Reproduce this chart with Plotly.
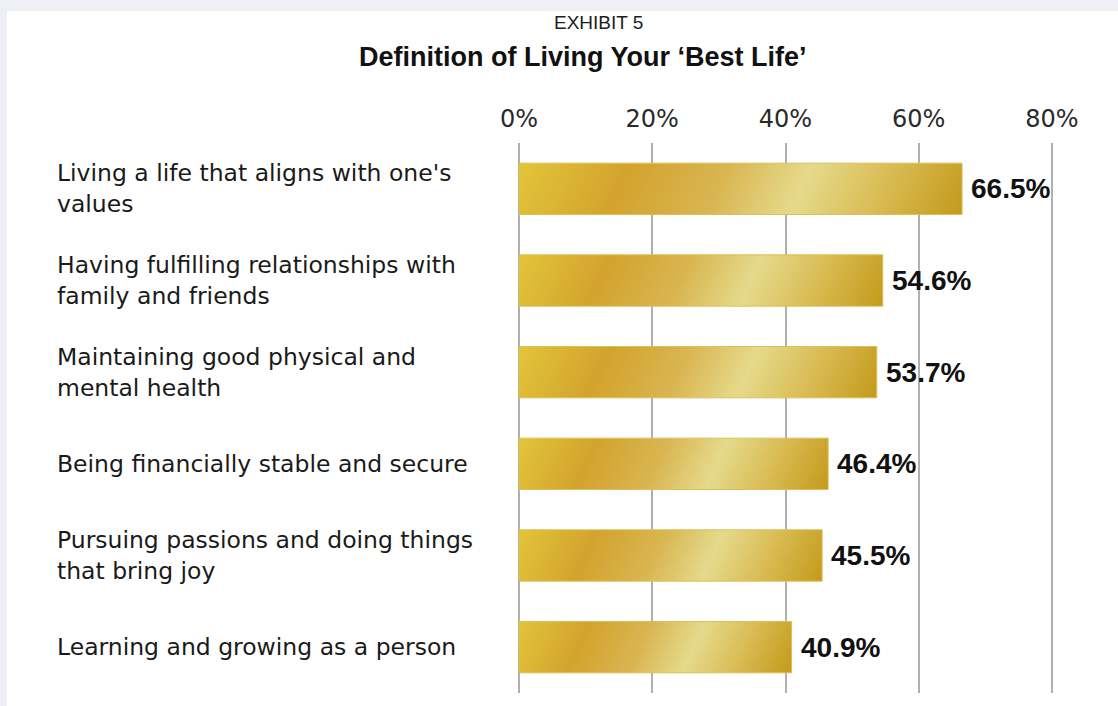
import plotly.graph_objects as go

categories = [
    "Living a life that aligns with one's<br>values",
    "Having fulfilling relationships with<br>family and friends",
    "Maintaining good physical and<br>mental health",
    "Being financially stable and secure",
    "Pursuing passions and doing things<br>that bring joy",
    "Learning and growing as a person",
]
values = [66.5, 54.6, 53.7, 46.4, 45.5, 40.9]
value_labels = ["66.5%", "54.6%", "53.7%", "46.4%", "45.5%", "40.9%"]
tick_vals = [0, 20, 40, 60, 80]
tick_text = ["0%", "20%", "40%", "60%", "80%"]

FONT = "Liberation Sans, Arial, Helvetica, sans-serif"
WIDE = "DejaVu Sans, Liberation Sans, sans-serif"
W, H = 1118, 706
PX_PER_UNIT = 533 / 80.0
X0, X1 = -0.3, 80.3
L = round(519 + X0 * PX_PER_UNIT)
R = W - round(519 + X1 * PX_PER_UNIT)
T, B = 143, 13
PW, PH = W - L - R, H - T - B


def px_x(x):
    return (x - L) / PW


def px_y(y):
    return (H - B - y) / PH


fig = go.Figure()
fig.add_trace(go.Bar(
    y=list(range(len(categories))),
    x=values,
    orientation="h",
    width=0.56,
    marker=dict(color="#d6b040", line=dict(color="#dcbf55", width=1)),
    cliponaxis=False,
    hoverinfo="skip",
))

annotations = []
for i, (v, t) in enumerate(zip(values, value_labels)):
    annotations.append(dict(
        x=v, xref="x", y=i, yref="y", text="<b>" + t + "</b>",
        showarrow=False, xanchor="left", yanchor="middle", xshift=7,
        font=dict(family=FONT, size=28, color="#111111"),
    ))
for i, c in enumerate(categories):
    annotations.append(dict(
        x=px_x(55), xref="paper", y=i, yref="y",
        text=c, showarrow=False, xanchor="left", yanchor="middle", align="left",
        font=dict(family=WIDE, size=23.5, color="#1a1a1a"),
    ))
annotations.append(dict(
    x=px_x(598), xref="paper", y=px_y(22), yref="paper", text="EXHIBIT 5",
    showarrow=False, xanchor="center", yanchor="middle",
    font=dict(family=FONT, size=19, color="#1e1e1e"),
))
annotations.append(dict(
    x=px_x(583), xref="paper", y=px_y(57), yref="paper",
    text="<b>Definition of Living Your ‘Best Life’</b>",
    showarrow=False, xanchor="center", yanchor="middle",
    font=dict(family=FONT, size=27, color="#111111"),
))

fig.update_layout(
    width=W, height=H,
    margin=dict(l=L, r=R, t=T, b=B),
    paper_bgcolor="#eef0f5",
    plot_bgcolor="rgba(0,0,0,0)",
    showlegend=False,
    annotations=annotations,
    shapes=[dict(type="rect", xref="paper", yref="paper",
                 x0=px_x(7), x1=px_x(W + 2), y0=px_y(H + 2), y1=px_y(11),
                 fillcolor="white", line=dict(width=0), layer="below")],
    xaxis=dict(
        range=[X0, X1], side="top", tickvals=tick_vals, ticktext=tick_text,
        showgrid=True, gridcolor="#b0b0b0", gridwidth=2,
        zeroline=False, showline=False, ticks="",
        tickfont=dict(family=WIDE, size=24, color="#2a2a2a"),
        ticklabelstandoff=10, fixedrange=True,
    ),
    yaxis=dict(
        range=[5.5, -0.5], showticklabels=False, showgrid=False,
        zeroline=False, showline=False, ticks="", fixedrange=True,
    ),
)

post = """
var gd = document.getElementsByClassName('plotly-graph-div')[0];
function applyGrad(){
  var svg = gd.querySelector('svg.main-svg');
  if(!svg) return;
  var ns = 'http://www.w3.org/2000/svg';
  var defs = svg.querySelector('defs');
  if(!defs){ defs = document.createElementNS(ns,'defs'); svg.insertBefore(defs, svg.firstChild); }
  var stops = [[0,'#e2c53a'],[0.24,'#d3a32d'],[0.45,'#d9b551'],[0.63,'#e5da8b'],[0.82,'#d8b94f'],[1,'#c39a1b']];
  var ux = 1, uy = 0.45, n = Math.sqrt(ux*ux+uy*uy); ux/=n; uy/=n;
  gd.querySelectorAll('.barlayer .point path').forEach(function(p, i){
    var b = p.getBBox();
    if(!b.width) return;
    var id = 'goldgrad' + i;
    var old = document.getElementById(id);
    if(old) old.parentNode.removeChild(old);
    var g = document.createElementNS(ns,'linearGradient');
    g.setAttribute('id', id);
    g.setAttribute('gradientUnits','userSpaceOnUse');
    var len = b.width*ux + b.height*uy;
    g.setAttribute('x1', b.x); g.setAttribute('y1', b.y);
    g.setAttribute('x2', b.x + ux*len); g.setAttribute('y2', b.y + uy*len);
    stops.forEach(function(s){
      var st = document.createElementNS(ns,'stop');
      st.setAttribute('offset', s[0]); st.setAttribute('stop-color', s[1]);
      g.appendChild(st);
    });
    defs.appendChild(g);
    p.style.fill = 'url(#' + id + ')';
  });
}
applyGrad();
gd.on && gd.on('plotly_afterplot', applyGrad);
"""

fig.write_html("out.html", post_script=post, config={"displayModeBar": False})
